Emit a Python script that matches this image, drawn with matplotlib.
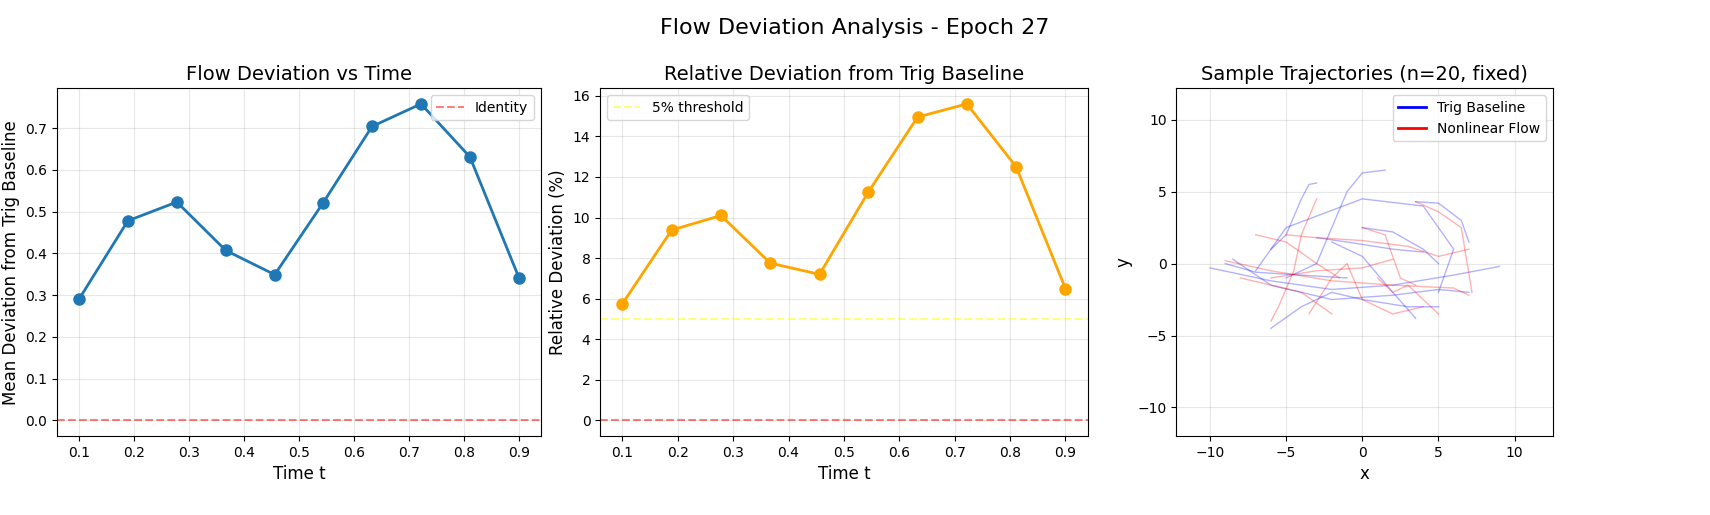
import matplotlib
matplotlib.use("Agg")
import matplotlib.pyplot as plt
import numpy as np

times = [0.1, 0.189, 0.278, 0.367, 0.456, 0.544, 0.633, 0.722, 0.811, 0.9]
mean_dev = [0.29, 0.478, 0.523, 0.407, 0.349, 0.521, 0.704, 0.758, 0.631, 0.342]
rel_dev = [5.75, 9.38, 10.1, 7.75, 7.2, 11.25, 14.95, 15.6, 12.5, 6.5]

# hand-read trajectory paths (x list, y list)
blue_paths = [
    ([-10, -6, -2, 2, 6, 9], [-0.3, -1.2, -1.8, -1.5, -0.8, -0.2]),
    ([-7, -5, 0, 4, 6, 5], [-0.5, 2.5, 4.5, 4, 1, -2]),
    ([-5, -3, -2, -1, 0, 1.5], [-1, 0, 2.5, 5, 6.3, 6.5]),
    ([-6, -5, -4, -3.5, -3], [1, 2, 4.5, 5.5, 5.6]),
    ([-8.5, -6, -2, 2, 5, 7], [0.3, -1.5, -2.5, -2.2, -1.8, -2]),
    ([-2, 0, 2, 3.5], [1.5, 0.5, -2, -3.8]),
    ([-6, -4, -2, 0, 3, 5], [-4.5, -3, -2, -2.5, -3, -3]),
    ([3.5, 5, 6.5, 7], [4.3, 4.2, 3, 1.5]),
    ([0, 2, 4, 5], [2.5, 2.2, 1, 0]),
    ([-9, -7, -4, -1], [0, -0.6, -0.8, -1]),
    ([-3, -1, 2, 4], [1.8, 1.5, 1, 0.8]),
]
red_paths = [
    ([-9, -6, -2, 2, 6, 7], [0.2, -0.5, -1.2, -1.5, -1.7, -2.2]),
    ([-6, -5.5, -4.5, -4, -3], [-4, -3, -0.5, 2, 4.5]),
    ([-5, -3, 0, 3, 5, 7], [2, 1.8, 1.6, 1.2, 0.5, 1]),
    ([0, 1.5, 2, 2.5, 3.5], [2.5, 2, 0.5, -1, -1.5]),
    ([3.5, 5, 6.5, 7.2], [4.3, 3.6, 2.5, -2]),
    ([-3.5, -2, -1, 0, 2, 4], [-3.5, -1, 0, -2.5, -3.5, -3]),
    ([-6, -3, 0, 2], [-1, -0.5, -0.3, 0.3]),
    ([-7, -5, -3, -1.5], [2, 1.5, 0, -1]),
    ([1, 2, 3, 4, 5], [-1, -2, -1.5, -2.5, -3.5]),
    ([-8, -6, -4, -2], [-1, -1.5, -2, -3.5]),
]

fig = plt.figure(figsize=(17.1, 5.15), dpi=100)
ax1 = fig.add_axes([0.0333, 0.153, 0.283, 0.676])
ax2 = fig.add_axes([0.351, 0.153, 0.285, 0.676])
ax3 = fig.add_axes([0.688, 0.153, 0.22, 0.676])
fig.suptitle("Flow Deviation Analysis - Epoch 27", fontsize=16, y=0.965)

ax = ax1
ax.plot(times, mean_dev, "o-", color="#1f77b4", lw=2, ms=8)
ax.axhline(0, color="red", ls="--", alpha=0.5, label="Identity")
ax.set_title("Flow Deviation vs Time", fontsize=14)
ax.set_xlabel("Time t", fontsize=12)
ax.set_ylabel("Mean Deviation from Trig Baseline", fontsize=12)
ax.grid(True, alpha=0.3)
ax.legend(loc="upper right")

ax = ax2
ax.plot(times, rel_dev, "o-", color="orange", lw=2, ms=8)
ax.axhline(5, color="yellow", ls="--", alpha=0.5, label="5% threshold")
ax.axhline(0, color="red", ls="--", alpha=0.5)
ax.set_title("Relative Deviation from Trig Baseline", fontsize=14)
ax.set_xlabel("Time t", fontsize=12)
ax.set_ylabel("Relative Deviation (%)", fontsize=12)
ax.grid(True, alpha=0.3)
ax.legend(loc="upper left")

ax = ax3
for x, y in blue_paths:
    ax.plot(x, y, color="blue", lw=1, alpha=0.3)
for x, y in red_paths:
    ax.plot(x, y, color="red", lw=1, alpha=0.3)
ax.plot([], [], color="blue", lw=2, label="Trig Baseline")
ax.plot([], [], color="red", lw=2, label="Nonlinear Flow")
ax.set_xlim(-12.2, 12.5)
ax.set_ylim(-12, 12.2)
ax.set_title("Sample Trajectories (n=20, fixed)", fontsize=14)
ax.set_xlabel("x", fontsize=12)
ax.set_ylabel("y", fontsize=12)
ax.grid(True, alpha=0.3)
ax.legend(loc="upper right")

fig.savefig("out.png")
